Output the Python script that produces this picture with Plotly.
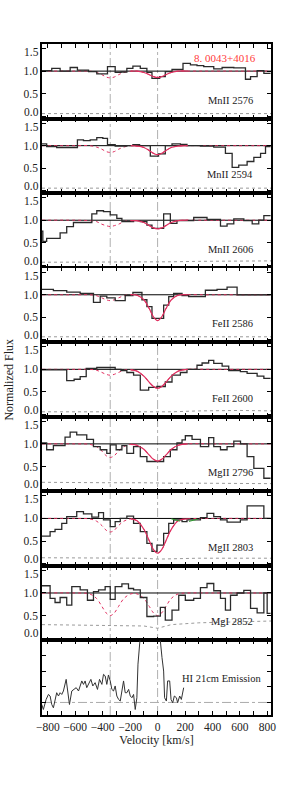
import plotly.graph_objects as go
from plotly.subplots import make_subplots

# ---------------- data ----------------
panel_labels = ["MnII 2576", "MnII 2594", "MnII 2606", "FeII 2586", "FeII 2600",
                "MgII 2796", "MgII 2803", "MgI 2852", "HI 21cm Emission"]
object_name = "8. 0043+4016"

x_ticks = [-800, -600, -400, -200, 0, 200, 400, 600, 800]
y_ticks = [0.0, 0.5, 1.0, 1.5]
y_ticktext = ["", "0.5", "1.0", ""]
y_edge_labels = ["0.0", "1.5"]
comp_velocities = [-345, 0]

# observed spectra: bin edges (km/s) and normalized flux per bin
p1_edges = [-842, -771, -710, -637, -584, -503, -443, -365, -309, -267, -224, -180, -126, -78, -41, 15, 56, 105, 154, 185, 239, 287, 336, 409, 470, 555, 640, 677, 725, 774, 823]
p1_flux = [1.01, 1.06, 1.00, 1.08, 1.02, 0.99, 0.94, 1.10, 0.97, 0.98, 1.06, 1.11, 1.06, 0.97, 0.84, 0.88, 0.99, 1.04, 1.04, 1.17, 1.14, 1.12, 1.10, 1.05, 1.08, 1.07, 0.82, 0.88, 1.01, 0.95]

p2_edges = [-842, -808, -735, -584, -540, -491, -443, -399, -365, -309, -224, -180, -131, -53, 7, 56, 105, 166, 214, 312, 409, 494, 543, 591, 652, 701, 750, 786, 823]
p2_flux = [1.04, 0.98, 0.96, 1.13, 1.11, 1.13, 1.18, 1.16, 1.02, 0.99, 1.0, 1.02, 1.0, 0.77, 0.82, 1.0, 1.04, 1.03, 1.0, 0.99, 0.97, 0.83, 0.52, 0.57, 0.65, 0.74, 0.83, 0.98]

p3_edges = [-860, -836, -808, -710, -662, -613, -479, -443, -394, -345, -297, -260, -175, -126, -78, -41, 44, 93, 141, 263, 360, 458, 506, 555, 628, 689, 737, 774, 823]
p3_flux = [0.76, 0.53, 0.60, 0.72, 0.86, 0.95, 1.14, 1.21, 1.19, 1.12, 1.04, 0.97, 0.99, 0.97, 0.89, 0.82, 1.14, 0.93, 0.99, 1.06, 1.02, 0.87, 0.92, 1.03, 0.99, 0.92, 1.0, 1.1]

p4_edges = [-842, -759, -662, -564, -467, -418, -370, -309, -236, -180, -114, -78, -41, 44, 81, 117, 178, 226, 348, 433, 506, 579, 823]
p4_flux = [1.12, 1.09, 1.06, 1.03, 0.83, 0.97, 0.93, 0.87, 0.98, 1.05, 0.89, 0.74, 0.48, 0.77, 0.96, 1.03, 0.98, 0.96, 1.1, 1.12, 1.17, 1.0]

p5_edges = [-842, -662, -608, -564, -520, -443, -309, -267, -224, -175, -126, -65, -5, 56, 105, 166, 214, 287, 324, 372, 409, 470, 518, 603, 652, 725, 774, 823]
p5_flux = [0.99, 0.75, 0.78, 0.84, 1.02, 1.04, 1.0, 0.97, 0.93, 0.87, 0.54, 0.60, 0.62, 0.72, 0.87, 0.93, 1.0, 1.09, 1.14, 1.2, 1.13, 1.07, 0.97, 0.95, 0.91, 0.85, 0.8]

p6_edges = [-842, -808, -759, -674, -637, -589, -516, -467, -418, -370, -345, -302, -260, -224, -175, -126, -78, -29, 44, 93, 141, 178, 202, 251, 312, 372, 409, 458, 506, 555, 604, 652, 701, 774, 823]
p6_flux = [1.02, 0.87, 0.96, 1.15, 1.26, 1.2, 1.1, 0.94, 0.87, 0.79, 0.98, 0.87, 0.96, 0.79, 0.94, 0.72, 0.61, 0.61, 0.72, 0.87, 1.02, 1.09, 1.18, 1.1, 0.94, 1.14, 0.94, 0.87, 0.94, 1.06, 1.0, 0.72, 0.46, 0.24]

p7_edges = [-842, -783, -747, -698, -662, -589, -540, -479, -430, -394, -345, -309, -272, -224, -175, -126, -78, -41, -5, 44, 81, 117, 178, 214, 312, 360, 409, 458, 506, 603, 652, 774, 823]
p7_flux = [0.61, 0.71, 0.76, 0.89, 1.04, 1.15, 1.1, 1.03, 1.13, 0.97, 0.82, 0.93, 1.0, 1.05, 0.89, 0.71, 0.45, 0.27, 0.41, 0.67, 0.89, 0.97, 0.93, 0.97, 1.02, 1.11, 1.04, 0.97, 0.92, 0.97, 1.28, 1.0]

p8_edges = [-842, -783, -747, -710, -662, -625, -564, -511, -467, -430, -382, -345, -309, -260, -212, -175, -126, -78, -29, 20, 56, 105, 154, 202, 263, 312, 360, 409, 458, 494, 531, 579, 628, 677, 725, 774, 798, 823]
p8_flux = [1.16, 0.88, 0.79, 0.9, 0.73, 1.14, 1.07, 0.84, 1.03, 1.07, 1.14, 0.86, 1.14, 1.2, 1.1, 1.07, 0.9, 0.48, 0.49, 0.68, 0.4, 0.62, 0.95, 0.84, 0.88, 1.12, 1.21, 1.05, 0.88, 0.62, 0.95, 1.0, 1.06, 0.66, 0.56, 1.0, 0.55]

# fitted absorption model, sampled on a velocity grid
model_v = [-842, -600, -495, -445, -405, -375, -345, -315, -285, -245, -195, -150, -100, -60, -30, 0, 30, 60, 100, 150, 220, 400, 826]
p1_model = [1, 1, 1.0, 0.97, 0.92, 0.87, 0.85, 0.87, 0.92, 0.97, 1.0, 1.0, 0.97, 0.92, 0.88, 0.86, 0.88, 0.92, 0.97, 1.0, 1, 1, 1]
p2_model = [1, 1, 1.0, 0.97, 0.92, 0.87, 0.85, 0.87, 0.92, 0.97, 1.0, 0.99, 0.96, 0.89, 0.83, 0.80, 0.83, 0.89, 0.96, 0.99, 1, 1, 1]
p3_model = [1, 1, 0.99, 0.97, 0.91, 0.88, 0.86, 0.88, 0.91, 0.97, 0.99, 0.99, 0.95, 0.88, 0.83, 0.81, 0.83, 0.88, 0.95, 0.99, 1, 1, 1]
p4_model = [1, 1, 1.0, 0.98, 0.93, 0.89, 0.87, 0.89, 0.93, 0.98, 1.0, 0.99, 0.89, 0.69, 0.51, 0.43, 0.51, 0.69, 0.89, 0.99, 1, 1, 1]
p5_model = [1, 1, 1.0, 0.98, 0.93, 0.89, 0.87, 0.89, 0.93, 0.98, 0.99, 0.96, 0.85, 0.71, 0.62, 0.58, 0.62, 0.71, 0.85, 0.96, 1.0, 1, 1]
p6_model = [1, 1, 0.99, 0.94, 0.84, 0.74, 0.70, 0.74, 0.84, 0.94, 0.99, 0.97, 0.88, 0.75, 0.66, 0.62, 0.66, 0.75, 0.88, 0.97, 1.0, 1, 1]
p7_model = [1, 1, 0.99, 0.94, 0.84, 0.74, 0.70, 0.74, 0.84, 0.94, 0.99, 0.95, 0.76, 0.50, 0.31, 0.23, 0.31, 0.50, 0.76, 0.95, 0.99, 1, 1]
p8_model = [1, 1, 0.98, 0.88, 0.70, 0.56, 0.50, 0.56, 0.70, 0.88, 0.98, 0.98, 0.88, 0.70, 0.56, 0.50, 0.56, 0.70, 0.88, 0.98, 1.0, 1, 1]

# extra (green dashed) component in MgII 2803
green_v = [100, 140, 180, 220, 260, 300]
green_flux = [0.99, 0.96, 0.93, 0.93, 0.96, 0.99]

# error spectra
err_v = [-842, -600, -345, -100, 0, 100, 300, 600, 826]
p1_err = [0.06, 0.06, 0.06, 0.06, 0.06, 0.06, 0.06, 0.06, 0.06]
p2_err = [0.06, 0.06, 0.06, 0.06, 0.06, 0.06, 0.06, 0.06, 0.06]
p3_err = [0.07, 0.07, 0.07, 0.07, 0.07, 0.08, 0.09, 0.10, 0.10]
p4_err = [0.07, 0.07, 0.07, 0.07, 0.07, 0.07, 0.07, 0.07, 0.07]
p5_err = [0.06, 0.06, 0.06, 0.06, 0.05, 0.06, 0.08, 0.09, 0.08]
p6_err = [0.15, 0.14, 0.14, 0.14, 0.13, 0.13, 0.13, 0.13, 0.12]
p7_err = [0.13, 0.13, 0.12, 0.12, 0.10, 0.11, 0.12, 0.12, 0.12]
p8_err = [0.30, 0.29, 0.29, 0.27, 0.22, 0.30, 0.34, 0.37, 0.38]

# HI 21cm emission
hi_v = [-844, -832, -812, -795, -783, -771, -759, -747, -735, -722, -710, -698, -686, -666, -657, -642,
        -625, -613, -593, -576, -564, -552, -540, -528, -516, -503, -486, -472, -455, -438, -423, -406,
        -394, -382, -370, -358, -345, -333, -321, -309, -297, -284, -272, -260, -248, -236, -224, -211,
        -199, -187, -175, -163, -151, -143, -134, -126, -90, -50, -10, 10, 15, 20, 32, 44, 51, 64, 73,
        88, 98, 110, 122, 137, 146, 161, 173, 185, 190]
hi_flux = [-0.13, -0.45, 0.19, 0.51, 0.41, -0.13, -0.34, 0.09, 0.62, 0.41, 0.62, 0.51, 0.73, 1.47, 0.83, -0.13,
           0.73, 0.83, 0.94, 0.73, 1.05, 1.37, 1.15, 1.37, 0.94, 1.15, 1.47, 1.05, 1.26, 0.83, 1.47, 1.15,
           1.79, 1.69, 1.15, 1.75, 1.37, 0.83, 0.73, 1.05, 0.41, 0.19, 0.09, 0.73, 1.37, 0.62, 0.62, 0.83,
           0.41, 0.30, 0.51, -0.45, 0.30, 2.44, 3.93, 6.0, 8.0, 8.0, 7.0, 5.0, 4.2, 3.93, 2.86, 2.0, 0.3, 0.09, 1.37,
           1.37, 0.19, -0.02, 0.41, 0.3, -0.02, 0.41, 0.19, 0.73, 0.94]

edges_all = [p1_edges, p2_edges, p3_edges, p4_edges, p5_edges, p6_edges, p7_edges, p8_edges]
flux_all = [p1_flux, p2_flux, p3_flux, p4_flux, p5_flux, p6_flux, p7_flux, p8_flux]
model_all = [p1_model, p2_model, p3_model, p4_model, p5_model, p6_model, p7_model, p8_model]
err_all = [p1_err, p2_err, p3_err, p4_err, p5_err, p6_err, p7_err, p8_err]

# ---------------- style ----------------
FONT = "Liberation Serif"
RED = "#e03060"
DATA_COL = "#2a2a2a"
TXT = "#222"
XR = [-842, 826]
YR = [-0.05, 1.6]
W, H = 305, 812
ML, MT = 42, 44
PW, PH = 229, 671

fig = make_subplots(rows=9, cols=1, shared_xaxes=True, vertical_spacing=0)


def ax(name, r):
    return name if r == 1 else f"{name}{r}"


for i in range(8):
    r = i + 1
    ed, fl = edges_all[i], flux_all[i]
    fig.add_trace(go.Scatter(x=XR, y=[1, 1], mode="lines", line=dict(color="black", width=1),
                             hoverinfo="skip"), row=r, col=1)
    fig.add_trace(go.Scatter(x=model_v, y=model_all[i], mode="lines",
                             line=dict(color=RED, width=1, dash="dot", shape="spline", smoothing=1.0),
                             hoverinfo="skip"), row=r, col=1)
    fig.add_trace(go.Scatter(x=err_v, y=err_all[i], mode="lines",
                             line=dict(color="#9a9a9a", width=1, dash="dot"),
                             hoverinfo="skip"), row=r, col=1)
    fig.add_trace(go.Scatter(x=ed, y=fl + [fl[-1]], mode="lines",
                             line=dict(color=DATA_COL, width=1.3, shape="hv"),
                             hoverinfo="skip"), row=r, col=1)
    if i < 7:
        sv = [v for v in model_v if -200 <= v <= 250]
        sf = [f for v, f in zip(model_v, model_all[i]) if -200 <= v <= 250]
        fig.add_trace(go.Scatter(x=sv, y=sf, mode="lines",
                                 line=dict(color=RED, width=1.2, shape="spline", smoothing=1.0),
                                 hoverinfo="skip"), row=r, col=1)
    if i == 6:
        fig.add_trace(go.Scatter(x=green_v, y=green_flux, mode="lines",
                                 line=dict(color="#2ca02c", width=1, dash="dash", shape="spline"),
                                 hoverinfo="skip"), row=r, col=1)
    fig.update_yaxes(range=YR, tickvals=y_ticks, ticktext=y_ticktext, row=r, col=1)
    fig.add_annotation(x=706, y=0.36, xref=ax("x", r), yref=ax("y", r),
                       text=panel_labels[i], showarrow=False, xanchor="right", yanchor="middle",
                       font=dict(family=FONT, size=10.5, color=TXT))
    fig.add_annotation(x=0, y=YR[0], xref="paper", yref=ax("y", r), text=y_edge_labels[0],
                       showarrow=False, xanchor="right", yanchor="bottom", xshift=-2, yshift=0,
                       borderpad=0, font=dict(family=FONT, size=11.5, color=TXT))
    fig.add_annotation(x=0, y=YR[1], xref="paper", yref=ax("y", r), text=y_edge_labels[1],
                       showarrow=False, xanchor="right", yanchor="top", xshift=-2, yshift=-1,
                       borderpad=0, font=dict(family=FONT, size=11.5, color=TXT))

# HI panel
fig.add_trace(go.Scatter(x=XR, y=[0, 0], mode="lines",
                         line=dict(color="#aaaaaa", width=1, dash="dashdot"), hoverinfo="skip"), row=9, col=1)
fig.add_trace(go.Scatter(x=hi_v, y=hi_flux, mode="lines", line=dict(color="#333", width=1),
                         hoverinfo="skip"), row=9, col=1)
fig.update_yaxes(range=[-0.8, 3.95], tickvals=[0, 1, 2, 3], showticklabels=False, row=9, col=1)
fig.add_annotation(x=771, y=1.5, xref="x9", yref="y9", text=panel_labels[8], showarrow=False,
                   xanchor="right", yanchor="middle", font=dict(family=FONT, size=10.5, color=TXT))

fig.add_annotation(x=728, y=1.28, xref="x", yref="y", text=object_name, showarrow=False,
                   xanchor="right", yanchor="middle", font=dict(family=FONT, size=11, color="#ff3b3b"))

for cv in comp_velocities:
    fig.add_shape(type="line", xref="x", yref="paper", x0=cv, x1=cv, y0=0, y1=1,
                  line=dict(color="#b0b0b0", width=1, dash="dashdot"), layer="below")

fig.update_xaxes(range=XR, tickvals=x_ticks, ticks="inside", ticklen=4, tickcolor="black",
                 minor=dict(dtick=100, tick0=0, ticks="inside", ticklen=4, tickcolor="black"),
                 showline=True, linecolor="black", linewidth=1.5, mirror="ticks",
                 showgrid=False, zeroline=False,
                 tickfont=dict(family=FONT, size=11.5, color=TXT))
fig.update_yaxes(ticks="inside", ticklen=4, tickcolor="black",
                 showline=True, linecolor="black", linewidth=1.5, mirror="ticks",
                 showgrid=False, zeroline=False,
                 tickfont=dict(family=FONT, size=11.5, color=TXT))
fig.update_xaxes(title=dict(text="Velocity [km/s]", font=dict(family=FONT, size=12, color=TXT), standoff=2),
                 row=9, col=1)

fig.add_annotation(x=-0.148, y=0.5, xref="paper", yref="paper", text="Normalized Flux",
                   textangle=-90, showarrow=False, xanchor="center", yanchor="middle",
                   font=dict(family=FONT, size=12, color=TXT))

fig.update_layout(width=W, height=H,
                  margin=dict(l=ML, r=W - ML - PW, t=MT, b=H - MT - PH, autoexpand=False),
                  paper_bgcolor="white", plot_bgcolor="white", showlegend=False)

# remove the page's default 8px body margin so the figure sits at the window origin
fig.write_html("out.html", config={"displayModeBar": False},
               post_script="document.body.style.margin='0';document.body.style.overflow='hidden';")
